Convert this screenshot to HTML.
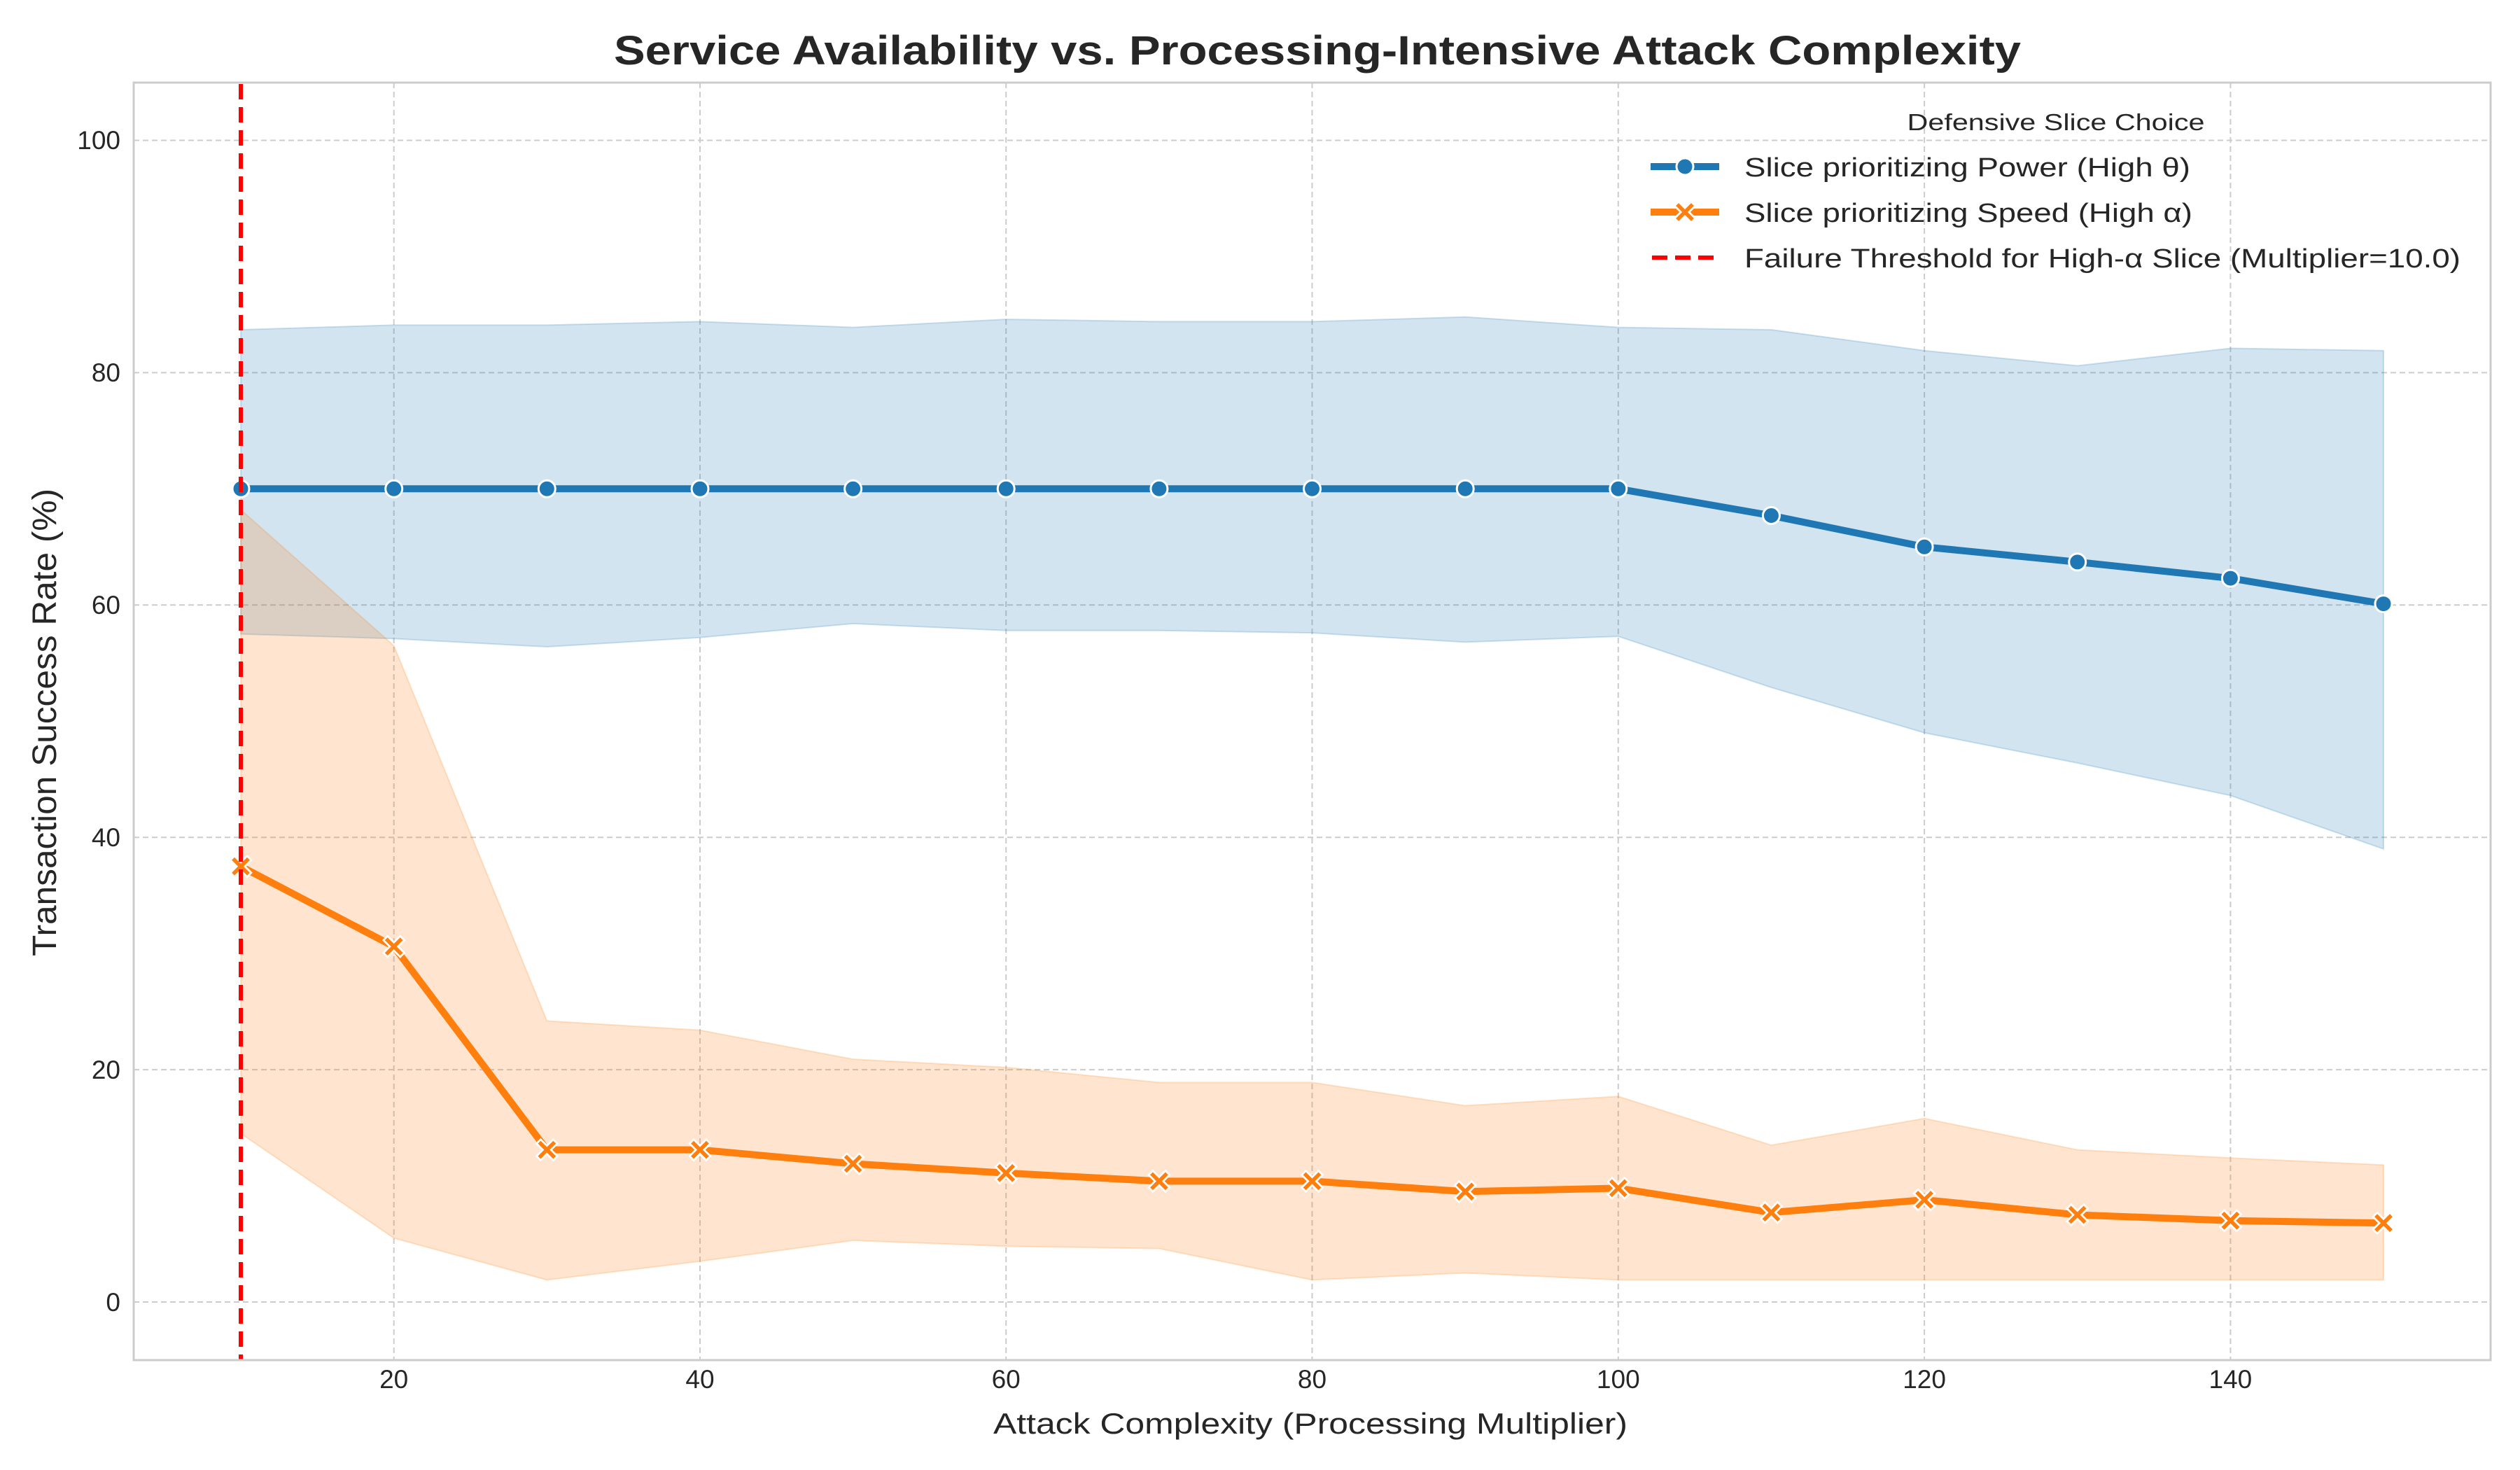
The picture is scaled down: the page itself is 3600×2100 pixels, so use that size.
<!DOCTYPE html>
<html><head><meta charset="utf-8"><style>html,body{margin:0;padding:0;background:#fff}svg{display:block}</style></head><body>
<svg width="3600" height="2100" viewBox="0 0 3600 2100" xmlns="http://www.w3.org/2000/svg" font-family="Liberation Sans, Arial, sans-serif">
<rect width="3600" height="2100" fill="#fff"/>
<g stroke="#cccccc" stroke-width="2" stroke-dasharray="8,5" fill="none">
<line x1="562.7" y1="118" x2="562.7" y2="1943"/><line x1="1000" y1="118" x2="1000" y2="1943"/><line x1="1437.2" y1="118" x2="1437.2" y2="1943"/><line x1="1874.5" y1="118" x2="1874.5" y2="1943"/><line x1="2311.8" y1="118" x2="2311.8" y2="1943"/><line x1="2749.1" y1="118" x2="2749.1" y2="1943"/><line x1="3186.4" y1="118" x2="3186.4" y2="1943"/>
<line x1="191" y1="1860" x2="3558" y2="1860"/><line x1="191" y1="1528.1" x2="3558" y2="1528.1"/><line x1="191" y1="1196.2" x2="3558" y2="1196.2"/><line x1="191" y1="864.3" x2="3558" y2="864.3"/><line x1="191" y1="532.4" x2="3558" y2="532.4"/><line x1="191" y1="200.5" x2="3558" y2="200.5"/>
</g>
<g transform="translate(125.4,1860) scale(21.864,-16.595)">
<polygon fill="#1f77b4" fill-opacity="0.2" stroke="#1f77b4" stroke-opacity="0.2" stroke-width="2" vector-effect="non-scaling-stroke" points="10,83.7 20,84.1 30,84.1 40,84.4 50,83.9 60,84.6 70,84.4 80,84.4 90,84.8 100,83.9 110,83.7 120,81.9 130,80.6 140,82.1 150,81.9 150,39 140,43.6 130,46.4 120,49 110,52.9 100,57.3 90,56.8 80,57.6 70,57.8 60,57.8 50,58.4 40,57.2 30,56.4 20,57.1 10,57.5"/>
<polygon fill="#ff7f0e" fill-opacity="0.2" stroke="#ff7f0e" stroke-opacity="0.2" stroke-width="2" vector-effect="non-scaling-stroke" points="10,68.2 20,56.5 30,24.2 40,23.4 50,20.9 60,20.2 70,18.9 80,18.9 90,16.9 100,17.7 110,13.5 120,15.8 130,13.1 140,12.4 150,11.8 150,1.9 140,1.9 130,1.9 120,1.9 110,1.9 100,1.9 90,2.5 80,1.9 70,4.6 60,4.8 50,5.3 40,3.5 30,1.9 20,5.5 10,14.5"/>
</g>
<polyline fill="none" stroke="#1f77b4" stroke-width="10" stroke-linejoin="round" points="344,698.3 562.7,698.3 781.3,698.3 1000,698.3 1218.6,698.3 1437.2,698.3 1655.9,698.3 1874.5,698.3 2093.2,698.3 2311.8,698.3 2530.4,736.5 2749.1,781.3 2967.7,802.9 3186.4,826.1 3405,862.6"/>
<g fill="#1f77b4" stroke="#fff" stroke-width="3">
<circle cx="344" cy="698.3" r="12"/><circle cx="562.7" cy="698.3" r="12"/><circle cx="781.3" cy="698.3" r="12"/><circle cx="1000" cy="698.3" r="12"/><circle cx="1218.6" cy="698.3" r="12"/><circle cx="1437.2" cy="698.3" r="12"/><circle cx="1655.9" cy="698.3" r="12"/><circle cx="1874.5" cy="698.3" r="12"/><circle cx="2093.2" cy="698.3" r="12"/><circle cx="2311.8" cy="698.3" r="12"/><circle cx="2530.4" cy="736.5" r="12"/><circle cx="2749.1" cy="781.3" r="12"/><circle cx="2967.7" cy="802.9" r="12"/><circle cx="3186.4" cy="826.1" r="12"/><circle cx="3405" cy="862.6" r="12"/>
</g>
<polyline fill="none" stroke="#ff7f0e" stroke-width="10" stroke-linejoin="round" points="344,1237.7 562.7,1352.2 781.3,1642.6 1000,1642.6 1218.6,1662.5 1437.2,1675.8 1655.9,1687.4 1874.5,1687.4 2093.2,1702.3 2311.8,1697.4 2530.4,1732.2 2749.1,1714 2967.7,1735.5 3186.4,1743.8 3405,1747.2"/>
<defs>
<g id="xm"><path d="M-9,-9 L9,9 M-9,9 L9,-9" stroke="#fff" stroke-width="11" stroke-linecap="square"/><path d="M-9,-9 L9,9 M-9,9 L9,-9" stroke="#ff7f0e" stroke-width="5.5" stroke-linecap="square"/></g>
</defs>
<use href="#xm" x="344" y="1237.7"/><use href="#xm" x="562.7" y="1352.2"/><use href="#xm" x="781.3" y="1642.6"/><use href="#xm" x="1000" y="1642.6"/><use href="#xm" x="1218.6" y="1662.5"/><use href="#xm" x="1437.2" y="1675.8"/><use href="#xm" x="1655.9" y="1687.4"/><use href="#xm" x="1874.5" y="1687.4"/><use href="#xm" x="2093.2" y="1702.3"/><use href="#xm" x="2311.8" y="1697.4"/><use href="#xm" x="2530.4" y="1732.2"/><use href="#xm" x="2749.1" y="1714"/><use href="#xm" x="2967.7" y="1735.5"/><use href="#xm" x="3186.4" y="1743.8"/><use href="#xm" x="3405" y="1747.2"/>
<line x1="344" y1="120" x2="344" y2="1943" stroke="#ff0000" stroke-width="6" stroke-dasharray="22,11"/>
<rect x="191" y="118" width="3367" height="1825" fill="none" stroke="#cccccc" stroke-width="3"/>
<g font-size="37" fill="#262626" text-anchor="middle">
<text x="562.7" y="1983">20</text><text x="1000" y="1983">40</text><text x="1437.2" y="1983">60</text><text x="1874.5" y="1983">80</text><text x="2311.8" y="1983">100</text><text x="2749.1" y="1983">120</text><text x="3186.4" y="1983">140</text>
</g>
<g font-size="37" fill="#262626" text-anchor="end">
<text x="172" y="1873">0</text><text x="172" y="1541">20</text><text x="172" y="1209">40</text><text x="172" y="877">60</text><text x="172" y="545">80</text><text x="172" y="213">100</text>
</g>
<text x="1872" y="2048" font-size="42" fill="#262626" text-anchor="middle" textLength="906" lengthAdjust="spacingAndGlyphs">Attack Complexity (Processing Multiplier)</text>
<text transform="translate(80,1032) rotate(-90)" font-size="48" fill="#262626" text-anchor="middle" textLength="668" lengthAdjust="spacingAndGlyphs">Transaction Success Rate (%)</text>
<text x="1882" y="92" font-size="58" font-weight="bold" fill="#262626" text-anchor="middle" textLength="2010" lengthAdjust="spacingAndGlyphs">Service Availability vs. Processing-Intensive Attack Complexity</text>
<text x="2937" y="186" font-size="33" fill="#262626" text-anchor="middle" textLength="425" lengthAdjust="spacingAndGlyphs">Defensive Slice Choice</text>
<line x1="2358" y1="238" x2="2456" y2="238" stroke="#1f77b4" stroke-width="10"/>
<circle cx="2407" cy="238" r="12" fill="#1f77b4" stroke="#fff" stroke-width="3"/>
<line x1="2358" y1="303" x2="2456" y2="303" stroke="#ff7f0e" stroke-width="10"/>
<use href="#xm" x="2407" y="303"/>
<line x1="2360" y1="368" x2="2456" y2="368" stroke="#ff0000" stroke-width="6" stroke-dasharray="22,11"/>
<g font-size="38" fill="#262626">
<text x="2492" y="252" textLength="637" lengthAdjust="spacingAndGlyphs">Slice prioritizing Power (High θ)</text>
<text x="2492" y="317" textLength="640" lengthAdjust="spacingAndGlyphs">Slice prioritizing Speed (High α)</text>
<text x="2492" y="382" textLength="1023" lengthAdjust="spacingAndGlyphs">Failure Threshold for High-α Slice (Multiplier=10.0)</text>
</g>
</svg>
</body></html>
